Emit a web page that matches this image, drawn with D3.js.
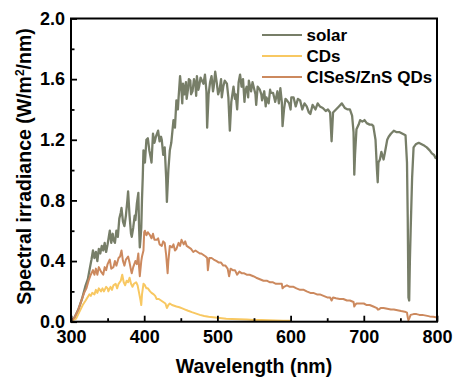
<!DOCTYPE html>
<html>
<head>
<meta charset="utf-8">
<script src="https://cdn.jsdelivr.net/npm/d3@7/dist/d3.min.js"></script>
<style>
  html, body { margin: 0; padding: 0; background: #ffffff; }
  svg { display: block; }
  text { font-family: "Liberation Sans", Arial, sans-serif; font-weight: bold; fill: #000; }
</style>
</head>
<body>
<div id="chart"></div>
<script>
// ---------------- data ----------------
const seriesNames = ["solar", "CDs", "ClSeS/ZnS QDs"];

const solarNm = [300,305,310,315,320,323,326,328,330,332,334,336,338,340,342,344,346,348,350,352,353,355,357,358,360,362,364,366,368,369,371,373,375,377,378,380,382,383,385,387,388,390,392,393,394,395,396,397,398,399,401,403,405,407,409,410,412,414,416,419,421,423,424,426,428,430,431,433,435,437,440,442,444,446,447,449,451,452,453,455,457,458,460,461,463,464,466,468,470,471,472,474,475,477,478,481,483,485,486,488,490,492,494,495,497,499,501,503,505,506,508,510,513,515,517,519,522,524,525,527,529,531,533,535,537,538,540,542,543,546,548,549,552,553,555,558,560,561,564,566,567,570,572,573,576,578,579,582,584,586,588,589,591,593,595,598,600,601,604,607,610,613,616,619,622,625,627,630,634,637,640,644,648,651,654,656,658,662,666,670,674,678,681,684,686,687,688,690,693,695,698,701,704,708,711,713,716,718,719,720,722,724,727,729,732,734,737,741,745,749,753,757,759,760,761,762,763,764,766,768,771,775,779,783,786,790,793,796,798,800];
const solarVal = [0.00,0.03,0.08,0.15,0.24,0.28,0.36,0.41,0.47,0.42,0.46,0.40,0.48,0.45,0.50,0.47,0.52,0.46,0.51,0.57,0.60,0.52,0.58,0.54,0.52,0.60,0.56,0.68,0.72,0.75,0.66,0.63,0.70,0.80,0.86,0.70,0.58,0.56,0.62,0.70,0.67,0.78,0.85,0.62,0.49,0.55,0.62,0.81,0.95,1.13,1.05,1.20,1.21,1.13,1.08,1.05,1.24,1.18,1.22,1.26,1.19,1.22,1.20,1.10,1.15,0.95,0.79,1.00,1.13,1.18,1.33,1.28,1.46,1.40,1.48,1.62,1.52,1.44,1.57,1.50,1.58,1.47,1.54,1.60,1.59,1.50,1.52,1.60,1.56,1.49,1.62,1.53,1.55,1.61,1.60,1.57,1.63,1.52,1.28,1.50,1.58,1.62,1.52,1.55,1.65,1.58,1.50,1.53,1.60,1.48,1.55,1.59,1.57,1.48,1.26,1.45,1.55,1.47,1.50,1.40,1.58,1.63,1.55,1.60,1.45,1.52,1.55,1.48,1.59,1.52,1.58,1.56,1.50,1.43,1.55,1.53,1.50,1.46,1.52,1.42,1.48,1.44,1.53,1.51,1.51,1.47,1.45,1.52,1.44,1.54,1.45,1.29,1.40,1.47,1.46,1.44,1.40,1.48,1.48,1.42,1.47,1.46,1.40,1.44,1.42,1.38,1.37,1.43,1.40,1.44,1.42,1.41,1.39,1.40,1.38,1.19,1.38,1.40,1.42,1.44,1.41,1.40,1.40,1.36,1.25,0.97,1.10,1.27,1.30,1.33,1.32,1.33,1.31,1.30,1.30,1.29,1.20,1.00,0.92,1.05,1.07,1.12,1.07,1.12,1.20,1.22,1.24,1.26,1.25,1.25,1.24,1.23,1.05,0.69,0.16,0.14,0.41,0.60,0.95,1.15,1.17,1.18,1.17,1.16,1.15,1.13,1.11,1.10,1.08,1.09];

const cdsNm = [300,303,307,311,316,320,325,327,329,332,334,336,338,341,343,345,348,350,351,354,356,358,361,363,365,368,370,372,374,376,378,380,382,384,386,389,391,393,395,396,397,399,401,403,405,408,410,413,415,417,420,423,426,429,431,433,435,438,441,444,448,452,456,460,465,470,476,482,488,494,500,506,512,520,530,540,550,560,570,580,590,600];
const cdsVal = [0.00,0.01,0.02,0.06,0.11,0.14,0.18,0.17,0.19,0.18,0.21,0.19,0.22,0.20,0.22,0.20,0.23,0.22,0.20,0.23,0.21,0.24,0.25,0.22,0.25,0.27,0.31,0.26,0.24,0.27,0.26,0.29,0.25,0.23,0.25,0.26,0.24,0.19,0.14,0.11,0.18,0.25,0.24,0.22,0.22,0.20,0.19,0.18,0.17,0.15,0.15,0.14,0.13,0.12,0.09,0.11,0.12,0.11,0.105,0.10,0.095,0.088,0.08,0.072,0.063,0.055,0.045,0.038,0.033,0.030,0.026,0.023,0.020,0.018,0.016,0.014,0.012,0.011,0.010,0.008,0.007,0.006];

const qdNm = [300,305,310,315,318,321,324,327,330,332,334,336,338,341,344,346,348,350,353,355,358,360,362,365,367,369,371,373,375,378,380,382,383,385,388,390,392,393,394,396,397,399,400,401,403,405,408,410,412,414,417,419,421,424,426,428,430,432,433,435,438,440,442,444,447,449,451,454,456,458,461,464,467,470,473,476,478,481,484,486,487,489,492,495,499,502,505,508,511,514,516,518,521,524,527,530,533,536,540,544,549,553,558,563,568,572,576,580,584,588,589,591,595,599,604,608,613,618,622,627,631,636,640,645,650,654,656,658,662,667,672,677,681,686,687,688,690,695,700,704,708,713,718,719,720,723,727,732,737,741,746,751,756,759,760,761,762,764,768,772,776,780,785,790,795,800];
const qdVal = [0.00,0.03,0.08,0.15,0.19,0.22,0.27,0.31,0.34,0.31,0.35,0.31,0.36,0.33,0.31,0.36,0.34,0.38,0.41,0.35,0.36,0.40,0.37,0.42,0.43,0.47,0.40,0.37,0.41,0.43,0.39,0.34,0.32,0.36,0.40,0.38,0.45,0.36,0.30,0.40,0.43,0.47,0.59,0.60,0.57,0.59,0.57,0.55,0.58,0.54,0.54,0.55,0.51,0.50,0.53,0.52,0.44,0.32,0.40,0.50,0.49,0.51,0.47,0.48,0.52,0.50,0.54,0.51,0.53,0.50,0.49,0.48,0.46,0.47,0.46,0.45,0.45,0.44,0.43,0.42,0.34,0.42,0.42,0.41,0.40,0.39,0.39,0.37,0.37,0.35,0.30,0.35,0.34,0.34,0.31,0.33,0.32,0.32,0.31,0.31,0.30,0.29,0.28,0.27,0.27,0.26,0.26,0.25,0.25,0.25,0.22,0.23,0.24,0.23,0.23,0.22,0.21,0.21,0.20,0.19,0.19,0.18,0.18,0.17,0.16,0.16,0.14,0.16,0.155,0.15,0.15,0.14,0.14,0.13,0.10,0.11,0.12,0.12,0.12,0.11,0.11,0.10,0.09,0.08,0.08,0.09,0.09,0.085,0.08,0.08,0.075,0.07,0.066,0.06,0.03,0.01,0.02,0.045,0.05,0.05,0.045,0.045,0.04,0.035,0.032,0.028];

const xMajorTicks = [300, 400, 500, 600, 700, 800];
const xMinorTicks = [350, 450, 550, 650, 750];
const yMajorTicks = [0.0, 0.4, 0.8, 1.2, 1.6, 2.0];
const yMinorTicks = [0.2, 0.6, 1.0, 1.4, 1.8];
const xTitle = "Wavelength (nm)";

// ---------------- chart ----------------
const W = 457, H = 385;
const colors = ["#777e68", "#f8c862", "#cc895e"];

const svg = d3.select("#chart").append("svg").attr("width", W).attr("height", H);

const x = d3.scaleLinear().domain([300, 800]).range([71, 437]);
const y = d3.scaleLinear().domain([0, 2]).range([321.7, 18.5]);

svg.append("defs").append("clipPath").attr("id", "plotclip")
  .append("rect").attr("x", 71).attr("y", 18.5).attr("width", 366).attr("height", 303.2);

const plot = svg.append("g").attr("clip-path", "url(#plotclip)");
const line = d3.line().x(d => x(d[0])).y(d => y(d[1]));

const datasets = [
  d3.zip(solarNm, solarVal),
  d3.zip(cdsNm, cdsVal),
  d3.zip(qdNm, qdVal)
];
const widths = [2.3, 2, 2];
datasets.forEach((ds, i) => {
  plot.append("path").datum(ds)
    .attr("d", line)
    .attr("fill", "none")
    .attr("stroke", colors[i])
    .attr("stroke-width", widths[i])
    .attr("stroke-linejoin", "round");
});

// axes
const xAxis = svg.append("g").attr("transform", "translate(0,321.7)")
  .call(d3.axisBottom(x).tickValues(xMajorTicks).tickFormat(d3.format("d"))
    .tickSizeInner(-6).tickSizeOuter(0).tickPadding(8.5));
const xAxisMinor = svg.append("g").attr("transform", "translate(0,321.7)")
  .call(d3.axisBottom(x).tickValues(xMinorTicks).tickFormat("")
    .tickSizeInner(-3.5).tickSizeOuter(0));
const yAxis = svg.append("g").attr("transform", "translate(71,0)")
  .call(d3.axisLeft(y).tickValues(yMajorTicks).tickFormat(d3.format(".1f"))
    .tickSizeInner(-6).tickSizeOuter(0).tickPadding(6));
const yAxisMinor = svg.append("g").attr("transform", "translate(71,0)")
  .call(d3.axisLeft(y).tickValues(yMinorTicks).tickFormat("")
    .tickSizeInner(-3.5).tickSizeOuter(0));

[xAxis, xAxisMinor, yAxis, yAxisMinor].forEach(g => {
  g.select(".domain").remove();
  g.selectAll(".tick line").attr("stroke", "#000").attr("stroke-width", 1.8);
  g.selectAll("text").attr("font-size", 18).attr("font-family", "'Liberation Sans', Arial, sans-serif")
    .attr("font-weight", "bold").attr("fill", "#000");
});

// frame
svg.append("rect").attr("x", 71).attr("y", 18.5).attr("width", 366).attr("height", 303.2)
  .attr("fill", "none").attr("stroke", "#000").attr("stroke-width", 2);

// axis titles
svg.append("text").attr("x", 254).attr("y", 373).attr("text-anchor", "middle")
  .attr("font-size", 19.5).text(xTitle);

const yt = svg.append("text").attr("transform", "translate(31,166.5) rotate(-90)")
  .attr("text-anchor", "middle").attr("font-size", 19.5);
yt.append("tspan").text("Spectral irradiance (W/m");
yt.append("tspan").attr("font-size", 12).attr("dy", -7).text("2");
yt.append("tspan").attr("dy", 7).text("/nm)");

// legend
const legend = svg.append("g");
seriesNames.forEach((name, i) => {
  const ly = 35 + i * 21;
  legend.append("line").attr("x1", 262).attr("x2", 302).attr("y1", ly).attr("y2", ly)
    .attr("stroke", colors[i]).attr("stroke-width", 2);
  legend.append("text").attr("x", 306.5).attr("y", ly + 6).attr("font-size", 17).text(name);
});
</script>
</body>
</html>
